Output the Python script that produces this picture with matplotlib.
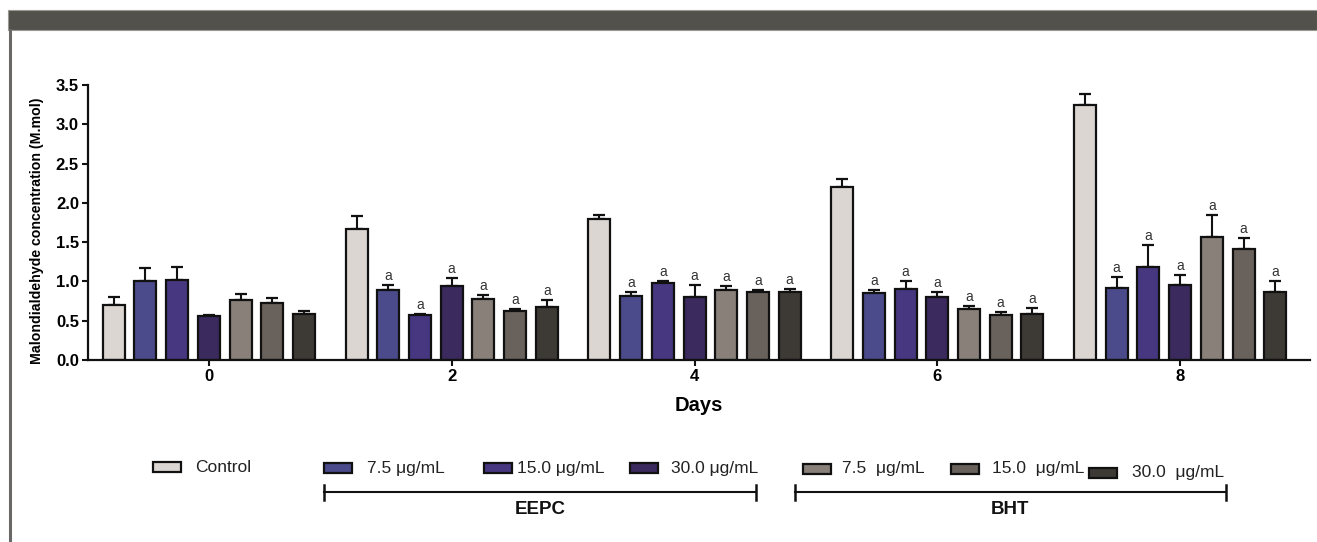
import matplotlib
matplotlib.use("Agg")
import matplotlib.pyplot as plt
from matplotlib.patches import Rectangle
from matplotlib.lines import Line2D
import numpy as np

plt.rcParams['font.family'] = ['Liberation Sans', 'DejaVu Sans']

# ---------------- data ----------------
days = ["0", "2", "4", "6", "8"]
series_names = ["Control", "EEPC 7.5", "EEPC 15.0", "EEPC 30.0", "BHT 7.5", "BHT 15.0", "BHT 30.0"]
means = [
    [0.70, 1.67, 1.80, 2.20, 3.24],   # Control
    [1.00, 0.89, 0.82, 0.85, 0.92],   # EEPC 7.5
    [1.02, 0.57, 0.98, 0.91, 1.18],   # EEPC 15.0
    [0.56, 0.94, 0.80, 0.80, 0.96],   # EEPC 30.0
    [0.76, 0.78, 0.89, 0.65, 1.57],   # BHT 7.5
    [0.72, 0.62, 0.86, 0.57, 1.41],   # BHT 15.0
    [0.59, 0.67, 0.86, 0.59, 0.86],   # BHT 30.0
]
errors = [
    [0.10, 0.16, 0.05, 0.11, 0.14],
    [0.17, 0.06, 0.05, 0.04, 0.14],
    [0.16, 0.02, 0.02, 0.10, 0.29],
    [0.01, 0.10, 0.15, 0.06, 0.12],
    [0.08, 0.05, 0.05, 0.04, 0.27],
    [0.07, 0.03, 0.03, 0.04, 0.14],
    [0.04, 0.09, 0.04, 0.07, 0.14],
]
# significance letter shown above bar (day index >= 1, non-control)
sig_letter = "a"
sig_days = [1, 2, 3, 4]

colors = ["#DCD6D2", "#4B4B8B", "#473781", "#3A2A5E", "#888079", "#69615B", "#3D3934"]

control_label = "Control"
eepc_labels = ["7.5 \u03bcg/mL", "15.0 \u03bcg/mL", "30.0 \u03bcg/mL"]
bht_labels = ["7.5  \u03bcg/mL", "15.0  \u03bcg/mL", "30.0  \u03bcg/mL"]
group_titles = ["EEPC", "BHT"]

y_label = "Malondialdehyde concentration (M.mol)"
x_label = "Days"
yticks = [0.0, 0.5, 1.0, 1.5, 2.0, 2.5, 3.0, 3.5]

# ---------------- figure ----------------
W, H = 1317, 542
fig = plt.figure(figsize=(W / 100, H / 100), dpi=100)

# overlay for frame decorations and legend (pixel coordinates)
lax = fig.add_axes([0, 0, 1, 1], zorder=0)
lax.set_xlim(0, W)
lax.set_ylim(H, 0)
lax.axis("off")
lax.add_patch(Rectangle((8, 10), W - 8, 20, facecolor="#53514C", edgecolor="#9a9893", lw=0.8))
lax.add_line(Line2D([10, 10], [30, H], color="#6a6866", lw=2.2))

ax = fig.add_axes([88 / W, 1 - 360 / H, (1310 - 88) / W, (360 - 85) / H], zorder=1)
ax.patch.set_alpha(0)

pitch = 0.1306
width = 0.0906
x = np.arange(len(days))
for i, (m, e, c) in enumerate(zip(means, errors, colors)):
    xs = x + (i - 3) * pitch
    ax.bar(xs, m, width=width, color=c, edgecolor="#111111", linewidth=1.6, zorder=2)
    ax.errorbar(xs, m, yerr=[np.zeros(len(e)), e], fmt="none", ecolor="#111111",
                elinewidth=1.5, capsize=4.3, capthick=1.6, zorder=1)
    if i > 0:
        for d in sig_days:
            ax.text(xs[d], m[d] + e[d] + 0.025, sig_letter, ha="center", va="bottom",
                    fontsize=10, color="#333333", zorder=3)

ax.set_xlim(-0.498, 4.535)
ax.set_ylim(0, 3.5)
ax.set_xticks(x)
ax.set_xticklabels(days, fontsize=12, fontweight="bold")
ax.set_yticks(yticks)
ax.set_yticklabels([f"{t:.1f}" for t in yticks], fontsize=12, fontweight="bold")
for s in ["top", "right"]:
    ax.spines[s].set_visible(False)
for s in ["left", "bottom"]:
    ax.spines[s].set_linewidth(1.6)
    ax.spines[s].set_color("#111111")
ax.tick_params(axis="both", direction="out", length=4.5, width=1.5, color="#111111", pad=2)
ax.set_ylabel(y_label, fontsize=10.2, fontweight="bold")
ax.yaxis.set_label_coords(-0.036, 0.47)
ax.set_xlabel(x_label, fontsize=14.5, fontweight="bold")
ax.xaxis.set_label_coords(0.5, -0.13)

# ---------------- legend ----------------
def legend_item(px, py, color, label, tx):
    lax.add_patch(Rectangle((px, py - 5), 28, 10, facecolor=color, edgecolor="#111111", lw=1.6))
    lax.text(tx, py, label, ha="left", va="center", fontsize=12.5, color="#222222")

legend_item(153, 467, colors[0], control_label, 195)
for (px, tx), col, lab in zip([(324, 367), (484, 517), (630, 671)], colors[1:4], eepc_labels):
    legend_item(px, 468, col, lab, tx)
for (px, tx, py), col, lab in zip([(803, 842, 469), (951, 992, 469), (1089, 1132, 473)], colors[4:7], bht_labels):
    legend_item(px, py, col, lab, tx)

for (x0, x1), title in zip([(324, 756), (795, 1226)], group_titles):
    lax.add_line(Line2D([x0, x1], [492, 492], color="#111111", lw=1.5))
    lax.add_line(Line2D([x0, x0], [485, 500], color="#111111", lw=1.8))
    lax.add_line(Line2D([x1, x1], [485, 500], color="#111111", lw=1.8))
    lax.text((x0 + x1) / 2, 510, title, ha="center", va="center", fontsize=13.5,
             fontweight="bold", color="#111111")

fig.savefig("out.png", dpi=100)
